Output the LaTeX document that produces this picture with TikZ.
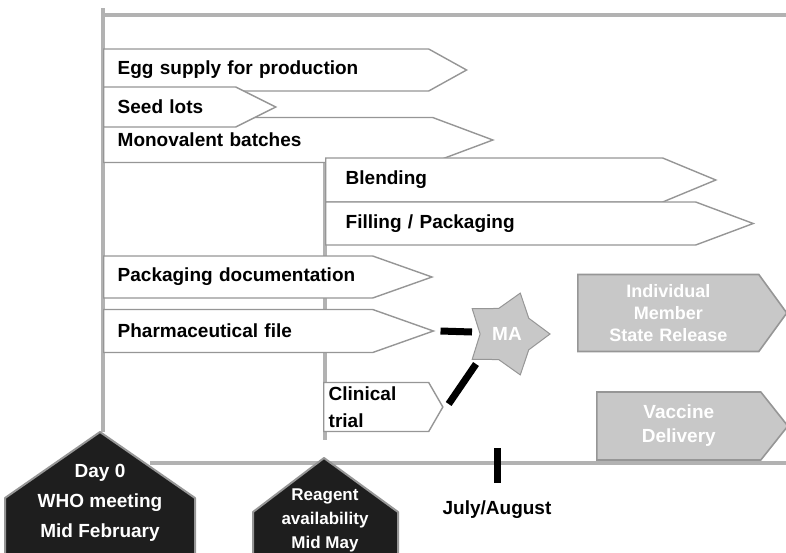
\documentclass[tikz,border=0pt]{standalone}
\usepackage{fontspec}
\setmainfont{Liberation Sans}
\usepackage{tikz}
\usetikzlibrary{shapes,positioning}
\usepackage{xcolor}
\definecolor{tlgrey}{RGB}{178,178,178}
\definecolor{tledge}{RGB}{150,150,150}
\definecolor{tlboxfill}{RGB}{200,200,200}
\definecolor{tldark}{RGB}{30,30,30}
\tikzstyle{phase} = [signal, signal to=east, anchor=west, draw=tledge, fill=white, line width=1.4pt, inner xsep=14pt, inner ysep=0pt, align=left, font=\bfseries\fontsize{19}{27}\selectfont]
\tikzstyle{outcome} = [signal, signal to=east, anchor=west, draw=tledge, fill=tlboxfill, line width=1.6pt, inner xsep=5pt, inner ysep=0pt, align=center, text=white, font=\bfseries\fontsize{18}{22}\selectfont]
\tikzstyle{frameline} = [line width=3.5pt, color=tlgrey]
\tikzstyle{mabar} = [line width=7pt, color=black]
\tikzstyle{milestone} = [fill=tldark, draw=tledge, line width=2pt, line join=round]
\tikzstyle{milestonetext} = [align=center, text=white, font=\bfseries\fontsize{19}{30}\selectfont]

\begin{document}
\begin{tikzpicture}[x=1pt, y=-1pt]
\useasboundingbox (0,0) rectangle (786,552);

% Frame
\coordinate (topleft) at (103,8);
\coordinate (topline) at (103,15);
\coordinate (topend) at (786,15);
\coordinate (day0foot) at (103,432);
\coordinate (midtop) at (325,158);
\coordinate (midfoot) at (325,440);
\coordinate (axisstart) at (150,463);
\coordinate (axisend) at (786,463);
\draw[frameline] (topline) -- (topend);
\draw[frameline] (topleft) -- (day0foot);
\draw[frameline] (midtop) -- (midfoot);
\draw[frameline] (axisstart) -- (axisend);

% Production steps
\node[phase, text width=297pt, minimum height=42pt, signal pointer angle=58] (egg) at (103,70) {Egg supply for production};
\node[phase, text width=301pt, minimum height=45pt, signal pointer angle=41] (mono) at (103,140) {Monovalent batches};
\node[phase, text width=104pt, minimum height=40pt, signal pointer angle=53] (seed) at (103,107) {Seed lots};
\node[phase, inner xsep=20pt, text width=297pt, minimum height=44pt, signal pointer angle=45] (blend) at (325,180) {Blending};
\node[phase, inner xsep=20pt, text width=330pt, minimum height=43pt, signal pointer angle=41] (fill) at (325,223.5) {Filling / Packaging};

% Documentation steps
\node[phase, text width=241pt, minimum height=42pt, signal pointer angle=39] (pkgdoc) at (103,277) {Packaging documentation};
\node[phase, text width=241pt, minimum height=43pt, signal pointer angle=39] (pharm) at (103,331) {Pharmaceutical file};
\node[phase, inner xsep=5pt, text width=95pt, minimum height=49pt, signal pointer angle=120] (clin) at (323,407) {Clinical\\trial};

% Marketing authorisation
\draw[mabar] ([xshift=5pt]pharm.east) -- (472,332);
\draw[mabar] ([xshift=5pt, yshift=3pt]clin.east) -- (476,364);
\node[star, star points=5, star point ratio=1.6, minimum size=86pt, shape border rotate=-90, fill=tlboxfill, draw=tledge, line width=1pt, text=white, font=\bfseries\fontsize{19}{22}\selectfont] (ma) at (507,334) {MA};

% Outcomes
\node[outcome, text width=171pt, minimum height=77pt, signal pointer angle=108] (msrel) at (577,313) {Individual\\Member\\State Release};
\node[outcome, text width=154pt, minimum height=68pt, signal pointer angle=103, font=\bfseries\fontsize{19}{24}\selectfont] (deliv) at (596,426) {Vaccine\\Delivery};

% Milestones
\filldraw[milestone] (5,560) -- (5,498) -- (100,432) -- (195,498) -- (195,560) -- cycle;
\node[milestonetext] (day0) at (100,503) {Day 0\\WHO meeting\\Mid February};
\filldraw[milestone] (253,560) -- (253,512) -- (324,458) -- (398,512) -- (398,560) -- cycle;
\node[milestonetext, font=\bfseries\fontsize{17}{24}\selectfont] (reagent) at (325,520) {Reagent\\availability\\Mid May};
\node[rectangle, fill=black, minimum width=7pt, minimum height=35pt, inner sep=0pt] (julytick) at (497,465) {};
\node[font=\bfseries\fontsize{19}{22}\selectfont, below=14pt of julytick] (july) {July/August};
\end{tikzpicture}
\end{document}
